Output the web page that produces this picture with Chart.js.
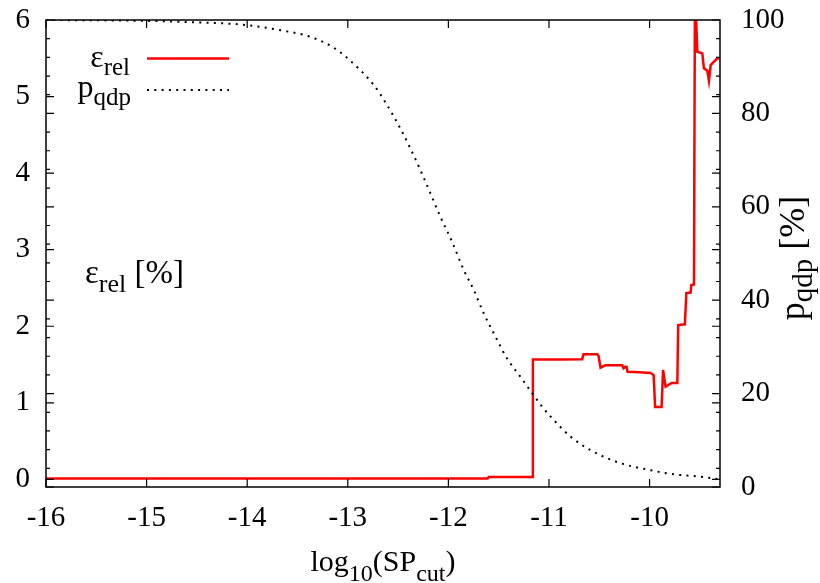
<!DOCTYPE html>
<html>
<head>
<meta charset="utf-8">
<script src="https://cdn.jsdelivr.net/npm/chart.js@4.4.1/dist/chart.umd.min.js"></script>
<style>
  html, body { margin: 0; padding: 0; background: #fff; }
  #wrap { width: 820px; height: 583px; }
</style>
</head>
<body>
<div id="wrap"><canvas id="c" width="820" height="583"></canvas></div>
<script>
// Tick values for the three axes
const xTicks = [-16, -15, -14, -13, -12, -11, -10];
const errTicks = [0, 1, 2, 3, 4, 5, 6];
const qdpTicks = [0, 20, 40, 60, 80, 100];
const qdpMinorStep = 4;

// Relative error (left axis, %) against log10 of the cut-off
const errX = [
  -16, -11.61, -11.60, -11.165, -11.16, -10.90, -10.67, -10.657, -10.52, -10.507,
  -10.488, -10.44, -10.272, -10.259, -10.24, -10.229, -10.219, -10.10, -9.99, -9.96,
  -9.945, -9.881, -9.866, -9.841, -9.781, -9.724, -9.716, -9.649, -9.635, -9.592,
  -9.585, -9.559, -9.549, -9.525, -9.476, -9.460, -9.426, -9.410, -9.393, -9.360,
  -9.326, -9.294
];
const errRel = [
  0.01, 0.01, 0.03, 0.03, 1.565, 1.565, 1.57, 1.633, 1.633, 1.61,
  1.46, 1.49, 1.49, 1.45, 1.47, 1.47, 1.405, 1.40, 1.39, 1.362,
  0.944, 0.944, 1.428, 1.21, 1.258, 1.258, 2.015, 2.025, 2.433, 2.44,
  2.537, 2.545, 6.4, 5.585, 5.564, 5.368, 5.337, 5.206, 5.411, 5.455,
  5.499, 5.50
];

// Share of quad-double points (right axis, %)
const qdpX = [
  -16, -14.965, -14.5, -14.17, -14.0, -13.639, -13.373, -13.157, -12.992, -12.743, -12.610,
  -12.478, -12.378, -12.279, -12.179, -12.080, -11.963, -11.848, -11.748, -11.649, -11.532,
  -11.416, -11.284, -11.167, -11.068, -10.985, -10.786, -10.587, -10.289, -9.990, -9.791,
  -9.493, -9.326, -9.294
];
const qdpPct = [
  100, 99.8, 99.5, 99.2, 98.9, 97.7, 96.4, 94.3, 91.6, 86.1, 81.8,
  76.8, 72.5, 67.9, 62.9, 57.9, 52.5, 46.5, 42.2, 37.2, 32.2,
  27.5, 23.6, 20.1, 17.2, 15.1, 10.8, 7.9, 5.1, 3.6, 2.8,
  2.2, 1.7, 1.65
];

const SERIF = "'Liberation Serif', 'Times New Roman', 'DejaVu Serif', serif";
Chart.defaults.font.family = SERIF;
Chart.defaults.color = '#000';

// Draws a run of text pieces where some pieces are subscripts
function drawRich(ctx, parts, x, y, align, size, subSize, drop) {
  const fontOf = p => (p.sub ? subSize : size) + 'px ' + SERIF;
  let total = 0;
  parts.forEach(p => { ctx.font = fontOf(p); p.w = ctx.measureText(p.t).width; total += p.w; });
  let cx = align === 'right' ? x - total : align === 'center' ? x - total / 2 : x;
  ctx.textAlign = 'left';
  ctx.textBaseline = 'alphabetic';
  parts.forEach(p => {
    ctx.font = fontOf(p);
    ctx.fillText(p.t, cx, p.sub ? y + drop : y);
    cx += p.w;
  });
}

// Fixed axis sizes; tick labels are allowed to overhang the plot edges
const fixSize = (w, h) => s => {
  if (w !== null) s.width = w;
  if (h !== null) s.height = h;
  s.paddingTop = 0; s.paddingBottom = 0; s.paddingLeft = 0; s.paddingRight = 0;
};

// Box around the plot with inward tick marks on every side
const framePlugin = {
  id: 'frame',
  afterDatasetsDraw(chart) {
    const { ctx, chartArea: a, scales } = chart;
    const { x, y, y2 } = scales;
    ctx.save();
    ctx.strokeStyle = '#000';
    ctx.lineWidth = 1.5;
    ctx.strokeRect(a.left, a.top, a.right - a.left, a.bottom - a.top);
    ctx.lineWidth = 1.2;
    ctx.beginPath();
    xTicks.forEach(v => {
      const px = x.getPixelForValue(v);
      ctx.moveTo(px, a.bottom); ctx.lineTo(px, a.bottom - 8);
      ctx.moveTo(px, a.top); ctx.lineTo(px, a.top + 8);
    });
    errTicks.forEach(v => {
      const py = y.getPixelForValue(v);
      ctx.moveTo(a.left, py); ctx.lineTo(a.left + 8, py);
      ctx.moveTo(a.right, py); ctx.lineTo(a.right - 8, py);
    });
    for (let v = qdpTicks[0]; v <= qdpTicks[qdpTicks.length - 1]; v += qdpMinorStep) {
      const py = y2.getPixelForValue(v);
      const len = qdpTicks.includes(v) ? 8 : 4;
      ctx.moveTo(a.right, py); ctx.lineTo(a.right - len, py);
      ctx.moveTo(a.left, py); ctx.lineTo(a.left + len, py);
    }
    ctx.stroke();
    ctx.restore();
  }
};

// Axis titles and the key
const textPlugin = {
  id: 'texts',
  afterDraw(chart) {
    const { ctx } = chart;
    ctx.save();
    ctx.fillStyle = '#000';
    // bottom axis title
    drawRich(ctx, [{ t: 'log' }, { t: '10', sub: true }, { t: '(SP' }, { t: 'cut', sub: true }, { t: ')' }],
      383, 571, 'center', 30, 24, 10);
    // left axis title, written inside the plot
    drawRich(ctx, [{ t: 'ε' }, { t: 'rel', sub: true }, { t: ' [%]' }], 85, 283, 'left', 33, 26, 9);
    // right axis title, rotated
    ctx.save();
    ctx.translate(804, 258);
    ctx.rotate(-Math.PI / 2);
    drawRich(ctx, [{ t: 'p' }, { t: 'qdp', sub: true }, { t: ' [%]' }], 0, 0, 'center', 36, 29, 8);
    ctx.restore();

    // key
    drawRich(ctx, [{ t: 'ε' }, { t: 'rel', sub: true }], 130, 67, 'right', 32, 25, 8);
    drawRich(ctx, [{ t: 'p' }, { t: 'qdp', sub: true }], 131, 97, 'right', 32, 25, 8);
    ctx.lineCap = 'butt';
    ctx.strokeStyle = '#ff0000';
    ctx.lineWidth = 2.5;
    ctx.beginPath(); ctx.moveTo(147, 58.5); ctx.lineTo(229, 58.5); ctx.stroke();
    ctx.strokeStyle = '#000';
    ctx.lineWidth = 2;
    ctx.setLineDash([2, 5.3]);
    ctx.beginPath(); ctx.moveTo(147, 90); ctx.lineTo(229, 90); ctx.stroke();
    ctx.restore();
  }
};

const toPoints = (xs, ys) => xs.map((v, i) => ({ x: v, y: ys[i] }));

new Chart(document.getElementById('c'), {
  type: 'line',
  data: {
    datasets: [
      {
        label: 'ε_rel',
        data: toPoints(errX, errRel),
        yAxisID: 'y',
        borderColor: '#ff0000',
        borderWidth: 2.5,
        pointRadius: 0,
        tension: 0,
        fill: false,
        clip: 0,
        order: 1
      },
      {
        label: 'p_qdp',
        data: toPoints(qdpX, qdpPct),
        yAxisID: 'y2',
        borderColor: '#000',
        borderWidth: 2,
        borderDash: [2, 5.3],
        borderCapStyle: 'butt',
        pointRadius: 0,
        cubicInterpolationMode: 'monotone',
        fill: false,
        clip: 0,
        order: 0
      }
    ]
  },
  options: {
    responsive: false,
    animation: false,
    devicePixelRatio: 1,
    layout: { padding: { top: 20, left: 0, right: 0, bottom: 0 } },
    plugins: { legend: { display: false }, tooltip: { enabled: false } },
    scales: {
      x: {
        type: 'linear',
        min: -16,
        max: -9.3,
        grid: { display: false, drawTicks: false },
        border: { display: false },
        ticks: { font: { size: 29 }, color: '#000', padding: 14, maxRotation: 0, autoSkip: false },
        afterBuildTicks: s => { s.ticks = xTicks.map(v => ({ value: v })); },
        afterFit: fixSize(null, 96)
      },
      y: {
        type: 'linear',
        position: 'left',
        min: -0.1,
        max: 6,
        grid: { display: false, drawTicks: false },
        border: { display: false },
        ticks: { font: { size: 29 }, color: '#000', padding: 16 },
        afterBuildTicks: s => { s.ticks = errTicks.map(v => ({ value: v })); },
        afterFit: fixSize(46, null)
      },
      y2: {
        type: 'linear',
        position: 'right',
        min: 0,
        max: 100,
        grid: { display: false, drawTicks: false },
        border: { display: false },
        ticks: { font: { size: 29 }, color: '#000', padding: 21 },
        afterBuildTicks: s => { s.ticks = qdpTicks.map(v => ({ value: v })); },
        afterFit: fixSize(100, null)
      }
    }
  },
  plugins: [framePlugin, textPlugin]
});
</script>
</body>
</html>
